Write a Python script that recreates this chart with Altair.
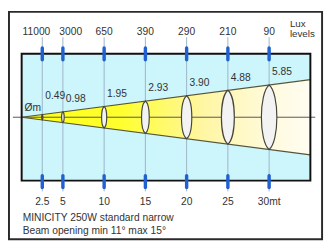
import altair as alt
import pandas as pd

# ---- data ----
dist = [2.5, 5, 10, 15, 20, 25, 30]
lux_labels = ["11000", "3000", "650", "390", "290", "210", "90"]
dist_labels = ["2.5", "5", "10", "15", "20", "25", "30mt"]
diam = [0.49, 0.98, 1.95, 2.93, 3.90, 4.88, 5.85]
footer = ["MINICITY 250W standard narrow", "Beam opening min 11° max 15°"]
unit_label = "Øm"
lux_title = ["Lux", "levels"]

# ---- layout constants ----
X_MAX = 35
Y_HALF = 5.75
W, H = 296, 130
PX = H / (2 * Y_HALF)

df = pd.DataFrame({"dist": dist, "lux": lux_labels, "dlab": dist_labels, "diam": diam})
df["half"] = df["diam"] / 2
df["dtext"] = df["diam"].map(lambda v: f"{v:.2f}")

slope = diam[-1] / dist[-1] / 2
beam = pd.DataFrame({"x": [0, X_MAX], "hi": [0, slope * X_MAX], "lo": [0, -slope * X_MAX]})
one = pd.DataFrame({"k": [0]})
origin = pd.DataFrame({"x": [0], "y": [0], "t": [unit_label]})

xs = alt.Scale(domain=[0, X_MAX], nice=False, zero=False)
ys = alt.Scale(domain=[-Y_HALF, Y_HALF], nice=False, zero=False)


def X(f):
    return alt.X(f, type="quantitative", scale=xs, axis=None)


def Y(f):
    return alt.Y(f, type="quantitative", scale=ys, axis=None)


FONT = "Liberation Sans"
TXT = "#333333"

grad = alt.Gradient(
    gradient="linear",
    stops=[
        alt.GradientStop(color="#ffff10", offset=0),
        alt.GradientStop(color="#ffff30", offset=0.35),
        alt.GradientStop(color="#fff6a0", offset=0.62),
        alt.GradientStop(color="#fffadc", offset=0.85),
        alt.GradientStop(color="#fffdf2", offset=1),
    ],
    x1=0, x2=1, y1=0, y2=0,
)

outer = alt.Chart(one).mark_rect(fill=None, stroke="#2a2a2a", strokeWidth=2).encode(
    x=alt.value(-13), x2=alt.value(308), y=alt.value(-43), y2=alt.value(190)
)

beam_area = alt.Chart(beam).mark_area(color=grad, opacity=1).encode(
    x=X("x"), y=Y("lo"), y2="hi"
)

grid = alt.Chart(df).mark_rule(color="#9cb4c6", strokeWidth=1).encode(
    x=X("dist"), y=alt.value(-17), y2=alt.value(141)
)

edge_hi = alt.Chart(beam).mark_line(color="#55553a", strokeWidth=1.2).encode(x=X("x"), y=Y("hi"))
edge_lo = alt.Chart(beam).mark_line(color="#55553a", strokeWidth=1.2).encode(x=X("x"), y=Y("lo"))

center = alt.Chart(one).mark_rule(color="#555555", strokeWidth=1).encode(
    x=alt.value(-9), x2=alt.value(301), y=alt.value(H / 2)
)

lens = "M0,-1C0.32,-0.75 0.32,0.75 0,1C-0.32,0.75 -0.32,-0.75 0,-1Z"
ellipses = alt.Chart(df).mark_point(
    shape=lens, filled=True, fill="#f3f3f3", stroke="#45453a", strokeWidth=1.2, opacity=1
).encode(
    x=X("dist"),
    y=alt.value(H / 2),
    size=alt.Size(
        "diam:Q",
        scale=alt.Scale(type="pow", exponent=2, domain=[0, max(diam)],
                        range=[0, (max(diam) * PX) ** 2], nice=False),
        legend=None,
    ),
)

box = alt.Chart(one).mark_rect(fill=None, stroke="#111111", strokeWidth=2).encode(
    x=alt.value(0), x2=alt.value(W), y=alt.value(0), y2=alt.value(H)
)

tick_top = alt.Chart(df).mark_rule(color="#2060d0", strokeWidth=3.5, strokeCap="round").encode(
    x=X("dist"), y=alt.value(-6), y2=alt.value(6)
)
tick_bot = alt.Chart(df).mark_rule(color="#2060d0", strokeWidth=3.5, strokeCap="round").encode(
    x=X("dist"), y=alt.value(H - 5), y2=alt.value(H + 7)
)

lux_base = alt.Chart(df).mark_text(font=FONT, fontSize=10.5, color=TXT, align="center")
lux_text = lux_base.transform_filter("datum.dist > 6").encode(
    x=X("dist"), y=alt.value(-22), text="lux:N"
)
lux_first = alt.Chart(df).transform_filter("datum.dist < 3").mark_text(
    font=FONT, fontSize=10.5, color=TXT, align="center", dx=-6
).encode(x=X("dist"), y=alt.value(-22), text="lux:N")
lux_second = alt.Chart(df).transform_filter("datum.dist > 3 && datum.dist < 6").mark_text(
    font=FONT, fontSize=10.5, color=TXT, align="center", dx=8
).encode(x=X("dist"), y=alt.value(-22), text="lux:N")
lux_head = alt.Chart(one).mark_text(
    font=FONT, fontSize=10, color=TXT, align="left", baseline="top", lineHeight=10, text=lux_title
).encode(x=alt.value(275), y=alt.value(-35))

dist_text = alt.Chart(df).mark_text(font=FONT, fontSize=10.5, color=TXT, align="center").encode(
    x=X("dist"), y=alt.value(152), text="dlab:N"
)

diam_text = alt.Chart(df).transform_filter("datum.dist > 3").mark_text(
    font=FONT, fontSize=10.5, color=TXT, align="left", dx=3, dy=-13
).encode(x=X("dist"), y=Y("half"), text="dtext:N")
diam_text0 = alt.Chart(df).transform_filter("datum.dist <= 3").mark_text(
    font=FONT, fontSize=10.5, color=TXT, align="left", dx=3, dy=-19
).encode(x=X("dist"), y=Y("half"), text="dtext:N")

origin_text = alt.Chart(origin).mark_text(
    font=FONT, fontSize=10.5, color=TXT, align="left", dx=3, dy=-9
).encode(x=X("x"), y=Y("y"), text="t:N")

foot1 = alt.Chart(one).mark_text(
    font=FONT, fontSize=10.5, color=TXT, align="left", text=footer[0]
).encode(x=alt.value(1), y=alt.value(168))
foot2 = alt.Chart(one).mark_text(
    font=FONT, fontSize=10.5, color=TXT, align="left", text=footer[1]
).encode(x=alt.value(1), y=alt.value(182))

chart = alt.layer(
    outer, beam_area, grid, edge_hi, edge_lo, center, ellipses, box,
    tick_top, tick_bot, lux_text, lux_first, lux_second, lux_head, dist_text,
    diam_text, diam_text0, origin_text, foot1, foot2,
).properties(
    width=W, height=H,
    padding={"left": 14, "top": 44, "right": 15, "bottom": 63},
    autosize=alt.AutoSizeParams(type="none"),
    background="white",
).configure_view(fill="#cdf5fc", stroke=None)

chart.save("out.html", embed_options={"renderer": "svg", "actions": False})
